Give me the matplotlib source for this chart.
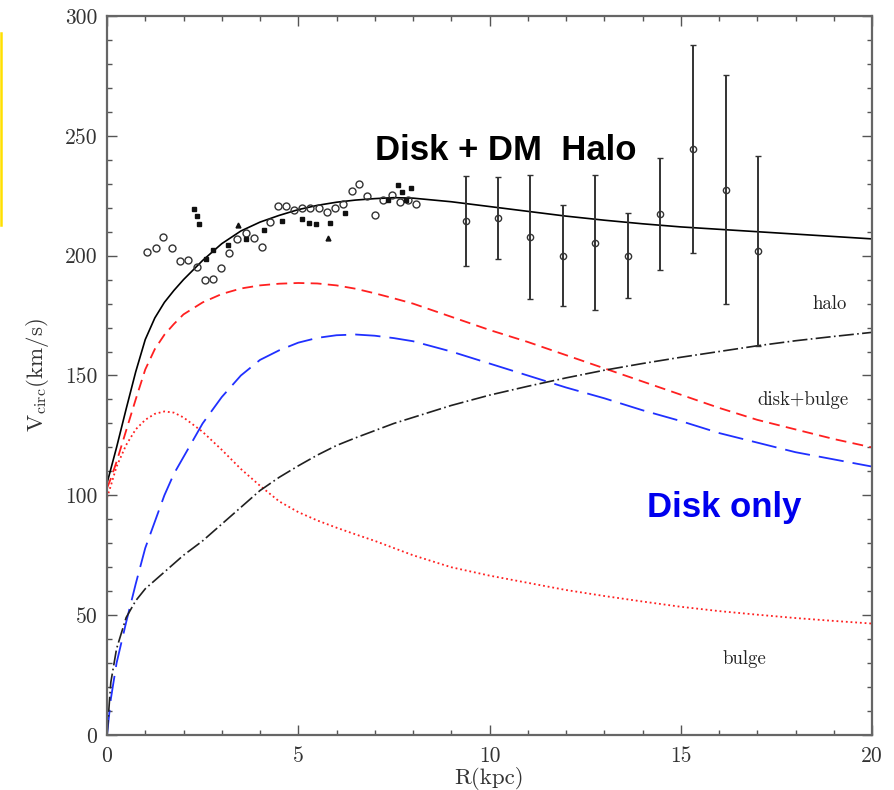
import matplotlib
matplotlib.use('Agg')
import matplotlib.pyplot as plt
import numpy as np
from matplotlib.lines import Line2D

plt.rcParams['mathtext.fontset'] = 'cm'

# model rotation curves, sampled on a common radius grid (kpc, km/s)
r_model = [0, 0.1, 0.25, 0.5, 0.75, 1, 1.25, 1.5, 1.75, 2, 2.5, 3, 3.5, 4,
           4.5, 5, 5.5, 6, 6.5, 7, 7.5, 8, 9, 10, 11, 12, 13, 14, 15, 16,
           17, 18, 19, 20]
v_total = [105, 111, 120, 136, 151.5, 165, 174, 180.5, 185.5, 190, 198,
           205, 210.3, 214, 216.8, 219.2, 221, 222.3, 223.2, 223.8, 224.2,
           224, 222.5, 220.5, 218.5, 216.5, 214.8, 213.3, 212, 211, 210, 209,
           208, 207]
v_disk_bulge = [103, 107, 114, 127, 140, 152.5, 161, 167, 171.5, 175.5,
                180.5, 184, 186.3, 187.6, 188.3, 188.6, 188.4, 187.6, 186.2,
                184.3, 182.2, 180, 174.5, 169, 164, 158.5, 153, 147.5, 142,
                136.5, 131.5, 127.5, 123.5, 120]
v_disk = [0, 15, 30, 47, 63, 78, 89, 100, 109, 116, 130, 141, 150, 156.5,
          160.5, 163.7, 165.7, 166.8, 167.1, 166.6, 165.6, 164.3, 160, 155,
          150, 145, 140.5, 135.5, 131, 126, 122, 118, 115, 112]
v_bulge = [99, 104, 112, 121, 127.5, 131.5, 134, 135, 134.5, 132.5, 126.5,
           119, 111, 104, 97.5, 93, 89.5, 86.5, 83.7, 81, 78, 75, 70, 66.5,
           63.5, 60.5, 58, 55.7, 53.5, 51.7, 50.2, 48.8, 47.6, 46.5]
v_halo = [0, 22, 36, 49, 56, 61, 64.5, 68, 71.5, 75, 81, 88, 95, 102,
          107.5, 112.3, 116.8, 120.8, 124, 127, 130, 132.5, 137.5, 141.8,
          145.5, 149, 152.2, 155, 157.6, 160, 162.4, 164.5, 166.3, 168]

# inner measurements: open circles
r_open = [1.05, 1.28, 1.47, 1.69, 1.91, 2.13, 2.35, 2.56, 2.76, 2.97, 3.2,
          3.41, 3.63, 3.84, 4.04, 4.26, 4.46, 4.68, 4.89, 5.11, 5.32, 5.54,
          5.74, 5.96, 6.18, 6.4, 6.6, 6.79, 7.01, 7.22, 7.44, 7.66, 7.88,
          8.08]
v_open = [201.6, 203.3, 207.9, 203.3, 197.9, 198.4, 195.4, 189.8, 190.2,
          194.9, 201.2, 206.9, 209.3, 207.2, 203.7, 214.1, 220.8, 220.7, 219,
          220, 220, 219.7, 218.3, 219.7, 221.5, 227, 229.9, 224.9, 216.9,
          223.4, 225.3, 222.5, 223.2, 221.5]

# inner measurements: small filled symbols
r_fill = [2.27, 2.34, 2.41, 2.6, 2.78, 3.17, 3.63, 4.11, 4.57, 5.11, 5.29,
          5.46, 5.83, 6.22, 7.35, 7.62, 7.7, 7.94, 7.83]
v_fill = [219.3, 216.5, 213.4, 198.8, 202.3, 204.4, 206.8, 210.7, 214.6,
          215.2, 213.7, 213.2, 213.7, 217.9, 223.2, 229.5, 226.7, 228.1,
          223.2]
r_tri = [3.43, 5.79]
v_tri = [212.8, 207.2]

# outer measurements with error bars
r_outer = [9.38, 10.21, 11.06, 11.92, 12.77, 13.62, 14.47, 15.32, 16.17,
           17.03]
v_outer = [214.5, 215.7, 207.8, 200, 205.4, 199.9, 217.4, 244.5, 227.6, 202]
v_err = [18.8, 17, 25.8, 21, 28.2, 17.7, 23.4, 43.2, 47.6, 39.7]

fig = plt.figure(figsize=(8.95, 7.9), dpi=100)
ax = fig.add_axes([107 / 895, 1 - 735 / 790, 765 / 895, 719 / 790])

ax.plot(r_model, v_total, color='black', lw=1.2)
ax.plot(r_model, v_disk_bulge, color='#ff2020', lw=1.3, dashes=(6, 3.5))
ax.plot(r_model, v_disk, color='#2030ff', lw=1.3, dashes=(14, 5))
ax.plot(r_model, v_bulge, color='#ff2020', lw=1.3, dashes=(1, 1.6))
ax.plot(r_model, v_halo, color='#202020', lw=1.2, dashes=(9, 2, 1, 2))

ax.plot(r_open, v_open, 'o', ms=5, mfc='none', mec='#333333', mew=1.0)
ax.plot(r_fill, v_fill, 's', ms=2.4, color='#111111')
ax.plot(r_tri, v_tri, '^', ms=3.5, color='#111111')
ax.errorbar(r_outer, v_outer, yerr=v_err, fmt='o', ms=4.5, mfc='none',
            mec='#333333', mew=1.0, ecolor='#333333', elinewidth=1.4,
            capsize=2.5, capthick=1.2)

ax.set_xlim(0, 20)
ax.set_ylim(0, 300)
ax.set_xticks(np.arange(0, 21, 5))
ax.set_xticks(np.arange(0, 21, 1), minor=True)
ax.set_yticks(np.arange(0, 301, 50))
ax.set_yticks(np.arange(0, 301, 10), minor=True)
ax.tick_params(which='both', direction='in', top=True, right=True,
               color='#555555', labelcolor='#333333', labelsize=15.5,
               width=1.0)
ax.tick_params(which='major', length=7)
ax.tick_params(which='minor', length=3.5)
ax.tick_params(axis='x', pad=8)
ax.tick_params(axis='y', pad=7)
for lab in ax.get_xticklabels() + ax.get_yticklabels():
    lab.set_family('cmr10')
for sp in ax.spines.values():
    sp.set_color('#666666')
    sp.set_linewidth(1.6)

ax.set_xlabel('R(kpc)', family='cmr10', fontsize=16.5, color='#333333',
              labelpad=1)
ax.set_ylabel(r'$\mathrm{V_{circ}(km/s)}$', fontsize=16.5, color='#333333',
              labelpad=10)

serif = dict(family='cmr10', fontsize=13.5, color='#222222')
ax.text(18.9, 180, 'halo', ha='center', va='center', **serif)
ax.text(18.2, 139.8, 'disk+bulge', ha='center', va='center', **serif)
ax.text(16.65, 31.7, 'bulge', ha='center', va='center', **serif)

ax.text(10.43, 244, 'Disk + DM  Halo', ha='center', va='center',
        family='Liberation Sans', fontweight='bold', fontsize=25,
        color='black')
ax.text(16.15, 95, 'Disk only', ha='center', va='center',
        family='Liberation Sans', fontweight='bold', fontsize=25,
        color='#0000ee')

# thin yellow marker line at the left edge
fig.add_artist(Line2D([1.2 / 895, 1.2 / 895], [1 - 225 / 790, 1 - 33 / 790],
                      color='#ffe000', lw=1.8))

fig.savefig('out.png', dpi=100)
